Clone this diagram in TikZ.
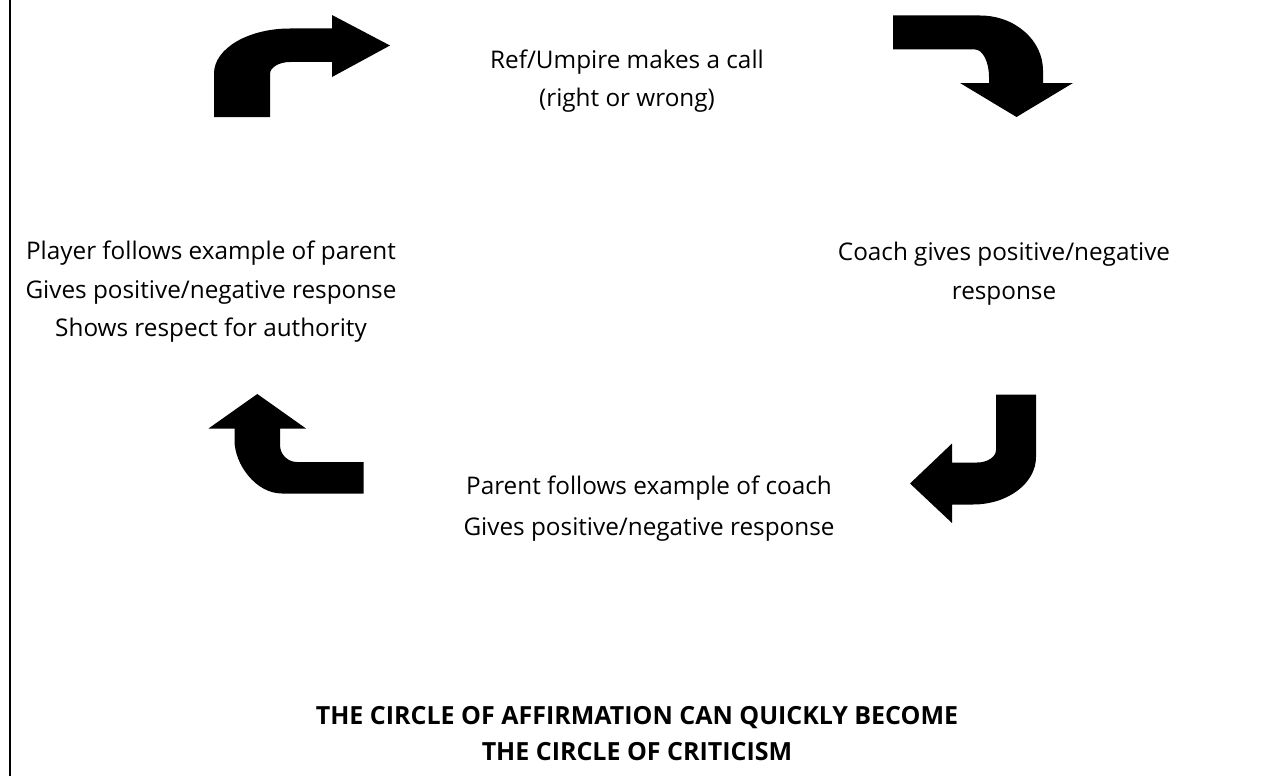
\documentclass[tikz,border=0pt]{standalone}
\usepackage{fontspec}
\setmainfont{Open Sans}
\begin{document}
\begin{tikzpicture}[x=1pt,y=-1pt,
  txt/.style={align=center,inner sep=0pt,font=\fontsize{24.3}{38.5}\selectfont},
  ttl/.style={align=center,inner sep=0pt,font=\fontsize{25}{36}\selectfont\bfseries},
  bentarrow/.style={fill=black,draw=none}]
\useasboundingbox (0,0) rectangle (1276,776);
\fill[white] (0,0) rectangle (1276,776);
% left border line
\draw[line width=2pt] (9.5,0) -- (9.5,776);

% texts
\node[txt] (ref) at (627,81) {Ref/Umpire makes a call\\(right or wrong)};
\node[txt] (player) at (211,292) {Player follows example of parent\\Gives positive/negative response\\Shows respect for authority};
\node[txt] (coach) at (1004,273.5) {Coach gives positive/negative\\response};
\node[txt,font=\fontsize{24.3}{41}\selectfont] (parent) at (649,509) {Parent follows example of coach\\Gives positive/negative response};
\node[ttl] (title) at (637,734) {THE CIRCLE OF AFFIRMATION CAN QUICKLY BECOME\\THE CIRCLE OF CRITICISM};

% arrow 1: top-left, up then right
\path[bentarrow] (214,117) -- (214,73.5) .. controls (214,48.6) and (248,28.5) .. (290,28.5)
  -- (332,28.5) -- (332,15) -- (390,45.5) -- (332,77) -- (332,62) -- (290,62)
  .. controls (279,62) and (270,67.4) .. (270,74) -- (270,117) -- cycle;

% arrow 2: top-right, right then down
\path[bentarrow] (893,15.5) -- (980,15.5) .. controls (1014.8,15.5) and (1043,40.1) .. (1043,70.5)
  -- (1043,83) -- (1073,83) -- (1016.5,117) -- (960,83) -- (989,83) -- (989,77)
  .. controls (989,61.8) and (982.7,49.5) .. (975,49.5) -- (893,49.5) -- cycle;

% arrow 3: bottom-right, down then left
\path[bentarrow] (1036,394.5) -- (1036,457) .. controls (1036,483.2) and (1007.8,504.5) .. (973,504.5)
  -- (952,504.5) -- (952,523) -- (910,483.5) -- (952,443.5) -- (952,462.5) -- (977,462.5)
  .. controls (987.5,462.5) and (996,456.9) .. (996,450) -- (996,394.5) -- cycle;

% arrow 4: bottom-left, left then up
\path[bentarrow] (257.3,394) -- (306,428.5) -- (280,428.5) -- (280,445)
  .. controls (280,454.4) and (287.6,462) .. (297,462) -- (363.5,462) -- (363.5,493.5) -- (282,493.5)
  .. controls (255.8,493.5) and (234.5,464.2) .. (234.5,440.5) -- (234.5,428.5) -- (208.5,428.5) -- cycle;
\end{tikzpicture}
\end{document}
